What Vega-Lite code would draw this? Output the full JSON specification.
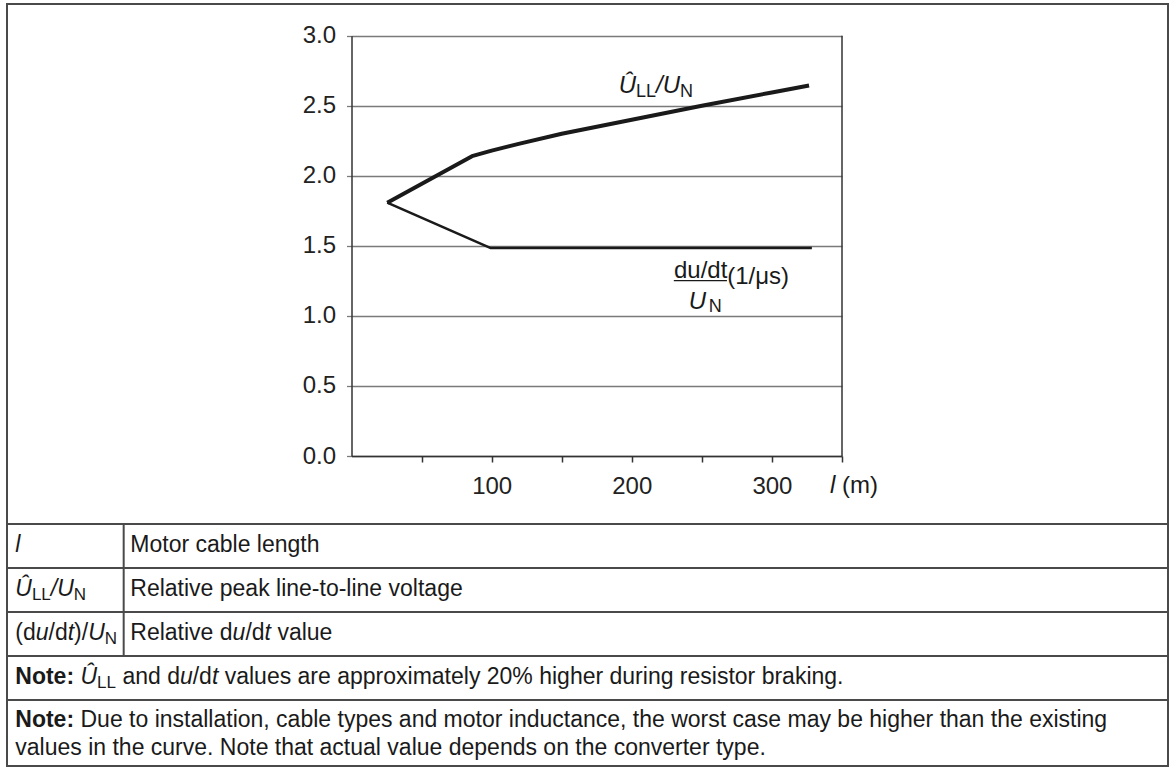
{
  "$schema": "https://vega.github.io/schema/vega-lite/v6.json",
  "padding": {"left": 5, "top": 3, "right": 3, "bottom": 2},
  "spacing": 0,
  "bounds": "flush",
  "config": {
    "font": "Liberation Sans",
    "view": {"stroke": "#4a4a4a", "strokeWidth": 2},
    "text": {"font": "Liberation Sans", "color": "#1a1a1a", "align": "left", "baseline": "alphabetic"}
  },
  "vconcat": [
    {
      "width": 1161,
      "height": 520,
      "layer": [
        {
          "data": {
            "values": [
              {"series": "peak", "length": 25.5, "value": 1.808},
              {"series": "peak", "length": 86, "value": 2.14},
              {"series": "peak", "length": 100, "value": 2.18},
              {"series": "peak", "length": 120, "value": 2.23},
              {"series": "peak", "length": 150, "value": 2.3},
              {"series": "peak", "length": 200, "value": 2.4},
              {"series": "peak", "length": 250, "value": 2.5},
              {"series": "peak", "length": 300, "value": 2.595},
              {"series": "peak", "length": 326.5, "value": 2.645},
              {"series": "dudt", "length": 25.5, "value": 1.808},
              {"series": "dudt", "length": 99, "value": 1.485},
              {"series": "dudt", "length": 328.5, "value": 1.485}
            ]
          },
          "mark": {"type": "line", "color": "#1a1a1a", "strokeJoin": "round"},
          "encoding": {
            "x": {
              "field": "length", "type": "quantitative",
              "scale": {"domain": [0, 350], "range": [344.5, 835], "nice": false, "zero": false},
              "axis": {
                "values": [50, 100, 150, 200, 250, 300, 350],
                "labelExpr": "datum.value % 100 === 0 ? datum.label : ''",
                "grid": false, "offset": -68, "tickSize": 6, "tickColor": "#333", "tickWidth": 1.5,
                "domainColor": "#333", "domainWidth": 1.5,
                "labelFontSize": 24, "labelColor": "#222", "labelPadding": 12, "labelFont": "Liberation Sans",
                "title": null
              }
            },
            "y": {
              "field": "value", "type": "quantitative",
              "scale": {"domain": [0, 3], "range": [452, 31.7], "nice": false, "zero": false},
              "axis": {
                "values": [0, 0.5, 1, 1.5, 2, 2.5, 3], "format": ".1f",
                "grid": true, "gridColor": "#7a7a7a", "gridWidth": 1.3,
                "offset": -344.5, "tickSize": 5, "tickColor": "#7a7a7a", "tickWidth": 1.3,
                "domainColor": "#333", "domainWidth": 1.5,
                "labelFontSize": 24, "labelColor": "#222", "labelPadding": 11, "labelFont": "Liberation Sans",
                "title": null
              }
            },
            "detail": {"field": "series"},
            "strokeWidth": {"field": "series", "type": "nominal", "scale": {"domain": ["peak", "dudt"], "range": [4, 2.5]}, "legend": null}
          }
        },
        {
          "data": {"values": [{}]},
          "mark": {"type": "rule", "color": "#333", "strokeWidth": 1.5},
          "encoding": {"x": {"datum": 350}, "y": {"datum": 0}, "y2": {"datum": 3}}
        },
        {"data": {"values": [{}]}, "mark": {"type": "text", "text": "Û", "fontStyle": "italic", "fontSize": 24}, "encoding": {"x": {"datum": 190.7}, "y": {"datum": 2.589}}},
        {"data": {"values": [{}]}, "mark": {"type": "text", "text": "LL", "fontSize": 18, "dx": 17.3, "dy": 4}, "encoding": {"x": {"datum": 190.7}, "y": {"datum": 2.589}}},
        {"data": {"values": [{}]}, "mark": {"type": "text", "text": "/", "fontStyle": "italic", "fontSize": 24, "dx": 37.3}, "encoding": {"x": {"datum": 190.7}, "y": {"datum": 2.589}}},
        {"data": {"values": [{}]}, "mark": {"type": "text", "text": "U", "fontStyle": "italic", "fontSize": 24, "dx": 44}, "encoding": {"x": {"datum": 190.7}, "y": {"datum": 2.589}}},
        {"data": {"values": [{}]}, "mark": {"type": "text", "text": "N", "fontSize": 18, "dx": 61.3, "dy": 4}, "encoding": {"x": {"datum": 190.7}, "y": {"datum": 2.589}}},
        {"data": {"values": [{}]}, "mark": {"type": "text", "text": "du/dt", "fontSize": 24}, "encoding": {"x": {"datum": 230.1}, "y": {"datum": 1.2727}}},
        {
          "data": {"values": [{}]},
          "mark": {"type": "rule", "color": "#1a1a1a", "strokeWidth": 1.3},
          "encoding": {"x": {"datum": 230.0}, "x2": {"datum": 267.9}, "y": {"datum": 1.2512}}
        },
        {"data": {"values": [{}]}, "mark": {"type": "text", "text": "U", "fontStyle": "italic", "fontSize": 24, "dx": 14.7, "dy": 31.3}, "encoding": {"x": {"datum": 230.1}, "y": {"datum": 1.2727}}},
        {"data": {"values": [{}]}, "mark": {"type": "text", "text": "N", "fontSize": 18, "dx": 34.7, "dy": 34}, "encoding": {"x": {"datum": 230.1}, "y": {"datum": 1.2727}}},
        {"data": {"values": [{}]}, "mark": {"type": "text", "text": "(1/μs)", "fontSize": 24, "dx": 53.3, "dy": 6.6}, "encoding": {"x": {"datum": 230.1}, "y": {"datum": 1.2727}}},
        {"data": {"values": [{}]}, "mark": {"type": "text", "text": "l", "fontStyle": "italic", "fontSize": 24}, "encoding": {"x": {"datum": 341.4}, "y": {"datum": -0.264}}},
        {"data": {"values": [{}]}, "mark": {"type": "text", "text": "(m)", "fontSize": 24, "dx": 12}, "encoding": {"x": {"datum": 341.4}, "y": {"datum": -0.264}}}
      ]
    },
    {
      "width": 1161,
      "height": 242,
      "layer": [
        {
          "data": {"values": [{"boundary": 2}, {"boundary": 4}, {"boundary": 6}, {"boundary": 8}]},
          "mark": {"type": "rule", "color": "#4a4a4a", "strokeWidth": 2},
          "encoding": {
            "y": {"field": "boundary", "type": "quantitative", "scale": {"domain": [0, 11], "reverse": true, "nice": false, "zero": false}, "axis": null}
          }
        },
        {
          "data": {"values": [{}]},
          "mark": {"type": "rule", "color": "#4a4a4a", "strokeWidth": 2},
          "encoding": {
            "x": {"datum": 10.05, "scale": {"domain": [0, 100], "nice": false, "zero": false}, "axis": null},
            "y": {"datum": 0},
            "y2": {"datum": 6}
          }
        },
        {"data": {"values": [{}]}, "mark": {"type": "text", "text": "l", "fontStyle": "italic", "fontSize": 23}, "encoding": {"x": {"datum": 0.715}, "y": {"datum": 1.27}}},
        {"data": {"values": [{}]}, "mark": {"type": "text", "text": "Motor cable length", "fontSize": 23}, "encoding": {"x": {"datum": 10.62}, "y": {"datum": 1.27}}},

        {"data": {"values": [{}]}, "mark": {"type": "text", "text": "Û", "fontStyle": "italic", "fontSize": 23}, "encoding": {"x": {"datum": 0.715}, "y": {"datum": 3.27}}},
        {"data": {"values": [{}]}, "mark": {"type": "text", "text": "LL", "fontSize": 17, "dx": 16.6, "dy": 4}, "encoding": {"x": {"datum": 0.715}, "y": {"datum": 3.27}}},
        {"data": {"values": [{}]}, "mark": {"type": "text", "text": "/", "fontStyle": "italic", "fontSize": 23, "dx": 35.5}, "encoding": {"x": {"datum": 0.715}, "y": {"datum": 3.27}}},
        {"data": {"values": [{}]}, "mark": {"type": "text", "text": "U", "fontStyle": "italic", "fontSize": 23, "dx": 41.9}, "encoding": {"x": {"datum": 0.715}, "y": {"datum": 3.27}}},
        {"data": {"values": [{}]}, "mark": {"type": "text", "text": "N", "fontSize": 17, "dx": 58.5, "dy": 4}, "encoding": {"x": {"datum": 0.715}, "y": {"datum": 3.27}}},
        {"data": {"values": [{}]}, "mark": {"type": "text", "text": "Relative peak line-to-line voltage", "fontSize": 23}, "encoding": {"x": {"datum": 10.62}, "y": {"datum": 3.27}}},

        {"data": {"values": [{}]}, "mark": {"type": "text", "text": "(d", "fontSize": 23}, "encoding": {"x": {"datum": 0.715}, "y": {"datum": 5.27}}},
        {"data": {"values": [{}]}, "mark": {"type": "text", "text": "u", "fontStyle": "italic", "fontSize": 23, "dx": 20.4}, "encoding": {"x": {"datum": 0.715}, "y": {"datum": 5.27}}},
        {"data": {"values": [{}]}, "mark": {"type": "text", "text": "/d", "fontSize": 23, "dx": 33.2}, "encoding": {"x": {"datum": 0.715}, "y": {"datum": 5.27}}},
        {"data": {"values": [{}]}, "mark": {"type": "text", "text": "t", "fontStyle": "italic", "fontSize": 23, "dx": 52.4}, "encoding": {"x": {"datum": 0.715}, "y": {"datum": 5.27}}},
        {"data": {"values": [{}]}, "mark": {"type": "text", "text": ")/", "fontSize": 23, "dx": 58.8}, "encoding": {"x": {"datum": 0.715}, "y": {"datum": 5.27}}},
        {"data": {"values": [{}]}, "mark": {"type": "text", "text": "U", "fontStyle": "italic", "fontSize": 23, "dx": 72.9}, "encoding": {"x": {"datum": 0.715}, "y": {"datum": 5.27}}},
        {"data": {"values": [{}]}, "mark": {"type": "text", "text": "N", "fontSize": 17, "dx": 89.5, "dy": 4}, "encoding": {"x": {"datum": 0.715}, "y": {"datum": 5.27}}},
        {"data": {"values": [{}]}, "mark": {"type": "text", "text": "Relative d", "fontSize": 23}, "encoding": {"x": {"datum": 10.62}, "y": {"datum": 5.27}}},
        {"data": {"values": [{}]}, "mark": {"type": "text", "text": "u", "fontStyle": "italic", "fontSize": 23, "dx": 102.3}, "encoding": {"x": {"datum": 10.62}, "y": {"datum": 5.27}}},
        {"data": {"values": [{}]}, "mark": {"type": "text", "text": "/d", "fontSize": 23, "dx": 115.1}, "encoding": {"x": {"datum": 10.62}, "y": {"datum": 5.27}}},
        {"data": {"values": [{}]}, "mark": {"type": "text", "text": "t", "fontStyle": "italic", "fontSize": 23, "dx": 134.3}, "encoding": {"x": {"datum": 10.62}, "y": {"datum": 5.27}}},
        {"data": {"values": [{}]}, "mark": {"type": "text", "text": "value", "fontSize": 23, "dx": 147.1}, "encoding": {"x": {"datum": 10.62}, "y": {"datum": 5.27}}},

        {"data": {"values": [{}]}, "mark": {"type": "text", "text": "Note:", "fontWeight": "bold", "fontSize": 23}, "encoding": {"x": {"datum": 0.715}, "y": {"datum": 7.27}}},
        {"data": {"values": [{}]}, "mark": {"type": "text", "text": "Û", "fontStyle": "italic", "fontSize": 23, "dx": 65.2}, "encoding": {"x": {"datum": 0.715}, "y": {"datum": 7.27}}},
        {"data": {"values": [{}]}, "mark": {"type": "text", "text": "LL", "fontSize": 17, "dx": 81.8, "dy": 4}, "encoding": {"x": {"datum": 0.715}, "y": {"datum": 7.27}}},
        {"data": {"values": [{}]}, "mark": {"type": "text", "text": "and d", "fontSize": 23, "dx": 107.1}, "encoding": {"x": {"datum": 0.715}, "y": {"datum": 7.27}}},
        {"data": {"values": [{}]}, "mark": {"type": "text", "text": "u", "fontStyle": "italic", "fontSize": 23, "dx": 164.6}, "encoding": {"x": {"datum": 0.715}, "y": {"datum": 7.27}}},
        {"data": {"values": [{}]}, "mark": {"type": "text", "text": "/d", "fontSize": 23, "dx": 177.4}, "encoding": {"x": {"datum": 0.715}, "y": {"datum": 7.27}}},
        {"data": {"values": [{}]}, "mark": {"type": "text", "text": "t", "fontStyle": "italic", "fontSize": 23, "dx": 196.6}, "encoding": {"x": {"datum": 0.715}, "y": {"datum": 7.27}}},
        {"data": {"values": [{}]}, "mark": {"type": "text", "text": "values are approximately 20% higher during resistor braking.", "fontSize": 23, "dx": 209.4}, "encoding": {"x": {"datum": 0.715}, "y": {"datum": 7.27}}},

        {"data": {"values": [{}]}, "mark": {"type": "text", "text": "Note:", "fontWeight": "bold", "fontSize": 23}, "encoding": {"x": {"datum": 0.715}, "y": {"datum": 9.23}}},
        {"data": {"values": [{}]}, "mark": {"type": "text", "text": "Due to installation, cable types and motor inductance, the worst case may be higher than the existing", "fontSize": 23, "dx": 65.2}, "encoding": {"x": {"datum": 0.715}, "y": {"datum": 9.23}}},
        {"data": {"values": [{}]}, "mark": {"type": "text", "text": "values in the curve. Note that actual value depends on the converter type.", "fontSize": 23}, "encoding": {"x": {"datum": 0.715}, "y": {"datum": 10.5}}}
      ]
    }
  ]
}
